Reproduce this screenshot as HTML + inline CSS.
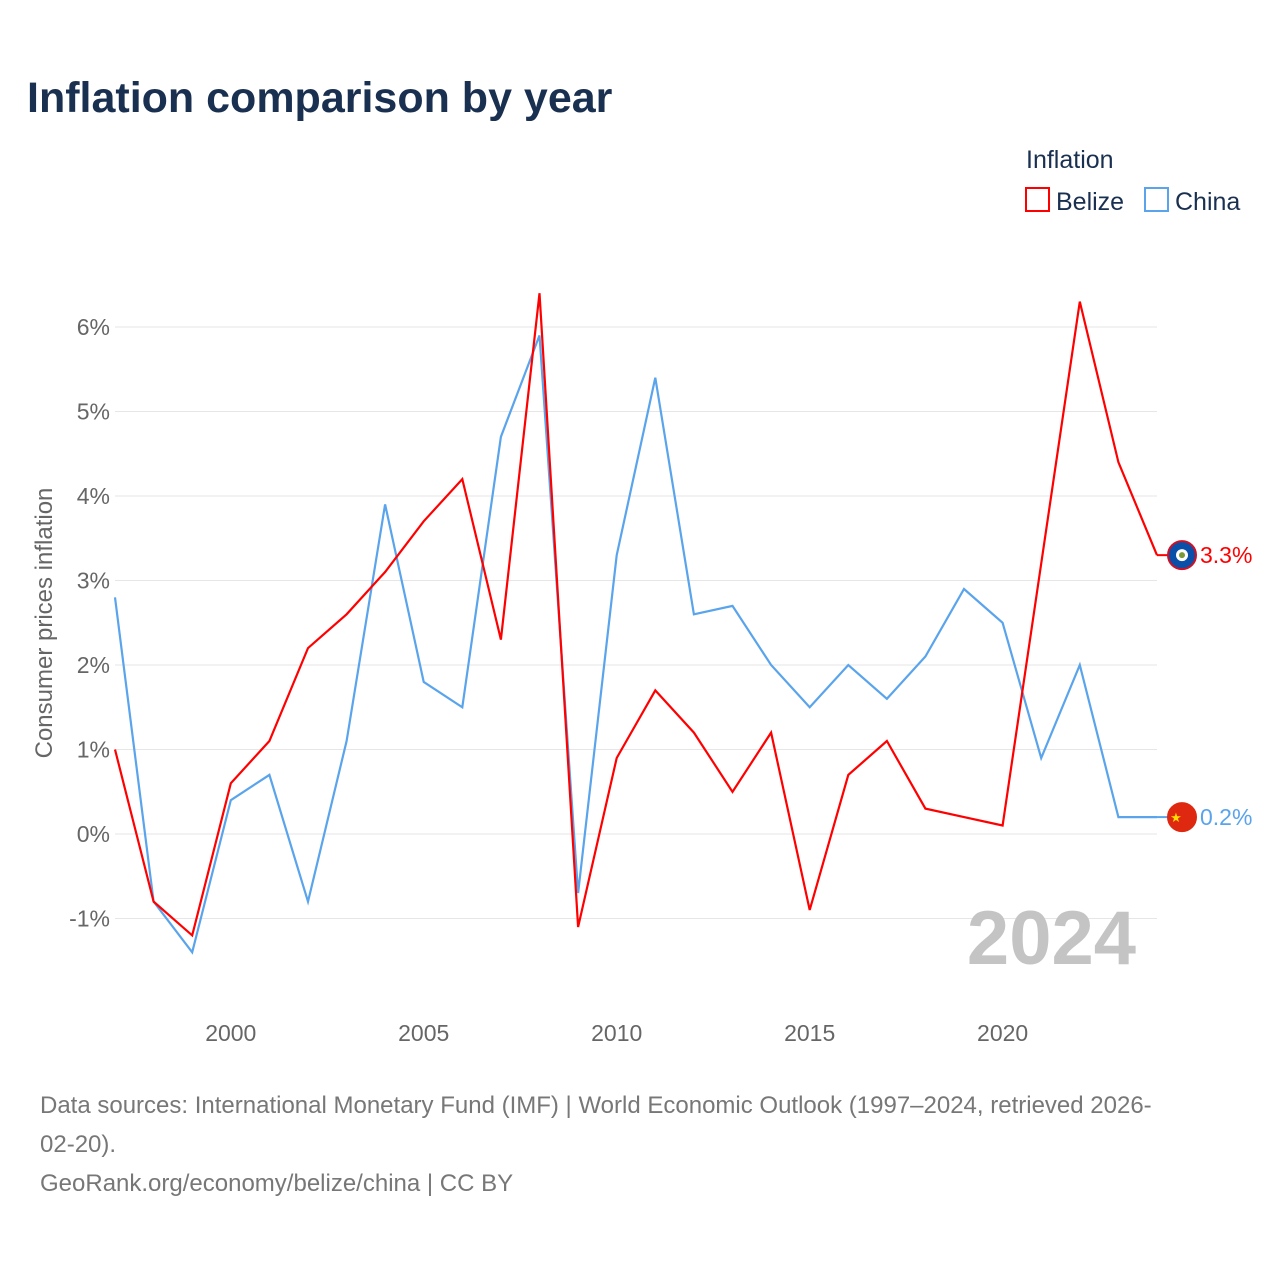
<!DOCTYPE html>
<html><head><meta charset="utf-8">
<style>
body{margin:0;background:#fff;}
svg{display:block;font-family:"Liberation Sans",sans-serif;}
</style></head><body>
<svg id="chart" width="1280" height="1280" viewBox="0 0 1280 1280" xmlns="http://www.w3.org/2000/svg">
<rect width="1280" height="1280" fill="#fff"/>
<text x="27" y="112" font-size="43" font-weight="bold" fill="#1a3050">Inflation comparison by year</text>
<text x="1026" y="168" font-size="25" fill="#1a3050">Inflation</text>
<g><rect x="1026" y="188" width="23" height="23" fill="none" stroke="#ff0000" stroke-width="2"/><text x="1056" y="210" font-size="25" fill="#1a3050">Belize</text></g>
<g><rect x="1145" y="188" width="23" height="23" fill="none" stroke="#5aa4ec" stroke-width="2"/><text x="1175" y="210" font-size="25" fill="#1a3050">China</text></g>
<g id="grid"></g>
<g id="yticks"></g>
<g id="xticks"></g>
<text transform="translate(52,623) rotate(-90)" text-anchor="middle" font-size="24" fill="#666">Consumer prices inflation</text>
<text x="1136" y="964" text-anchor="end" font-size="76" font-weight="bold" fill="#c4c4c4">2024</text>
<g id="series"></g>
<text font-size="24" fill="#777"><tspan x="40" y="1113">Data sources: International Monetary Fund (IMF) | World Economic Outlook (1997–2024, retrieved 2026-</tspan><tspan x="40" y="1152">02-20).</tspan><tspan x="40" y="1191">GeoRank.org/economy/belize/china | CC BY</tspan></text>
</svg>
<script>
const years=[1997,1998,1999,2000,2001,2002,2003,2004,2005,2006,2007,2008,2009,2010,2011,2012,2013,2014,2015,2016,2017,2018,2019,2020,2021,2022,2023,2024];
const belize=[1.0,-0.8,-1.2,0.6,1.1,2.2,2.6,3.1,3.7,4.2,2.3,6.4,-1.1,0.9,1.7,1.2,0.5,1.2,-0.9,0.7,1.1,0.3,0.2,0.1,3.2,6.3,4.4,3.3];
const china=[2.8,-0.8,-1.4,0.4,0.7,-0.8,1.1,3.9,1.8,1.5,4.7,5.9,-0.7,3.3,5.4,2.6,2.7,2.0,1.5,2.0,1.6,2.1,2.9,2.5,0.9,2.0,0.2,0.2];
const yTicks=[-1,0,1,2,3,4,5,6];
const xTicks=[2000,2005,2010,2015,2020];
const NS="http://www.w3.org/2000/svg";
const X=y=>115+(y-1997)*(1157-115)/27;
const Y=v=>834-v*84.5;
function mk(tag,attrs,parent){const e=document.createElementNS(NS,tag);for(const k in attrs)e.setAttribute(k,attrs[k]);parent.appendChild(e);return e;}
const grid=document.getElementById('grid'),yt=document.getElementById('yticks'),xt=document.getElementById('xticks'),ser=document.getElementById('series');
yTicks.forEach(t=>{
 const l=mk('line',{x1:115,x2:1157,y1:Y(t),y2:Y(t),stroke:'#e6e6e6','stroke-width':1},grid);
 
 
 const tx=mk('text',{x:110,y:Y(t)+8,'text-anchor':'end','font-size':23,fill:'#666'},yt);
 
 
 tx.textContent=t+'%';
});
xTicks.forEach(t=>{
 const tx=mk('text',{x:X(t),y:1041,'text-anchor':'middle','font-size':23,fill:'#666'},xt);
 
 
 tx.textContent=t;
});
function drawSeries(vals,color,name){
 const d=vals.map((v,i)=>(i?'L':'M')+X(years[i]).toFixed(1)+','+Y(v).toFixed(1)).join(' ');
 const p=mk('path',{d:d,fill:'none',stroke:color,'stroke-width':2.2,'stroke-linejoin':'miter'},ser);
 
 
 const last=vals[vals.length-1],ly=Y(last);
 const c=mk('line',{x1:1157,x2:1170,y1:ly,y2:ly,stroke:color,'stroke-width':2},ser);
 
 
 const f=mk('circle',{cx:1182,cy:ly,r:14,fill:name==='belize'?'#0a4fa8':'#de2910',stroke:name==='belize'?'#ce1126':'#de2910','stroke-width':2},ser);
 
 
 if(name==='belize'){mk('circle',{cx:1182,cy:ly,r:6,fill:'#fff'},ser);mk('circle',{cx:1182,cy:ly,r:3,fill:'#7a9a3a'},ser);}
 else{const s=mk('text',{x:1176,y:ly+5,'font-size':13,fill:'#ffde00','text-anchor':'middle'},ser);s.textContent='★';}
 const t=mk('text',{x:1200,y:ly+8,'font-size':23,fill:color},ser);
 
 
 t.textContent=last.toFixed(1)+'%';
}
drawSeries(china,'#5aa4ec','china');
drawSeries(belize,'#ff0000','belize');
</script>
</body></html>
